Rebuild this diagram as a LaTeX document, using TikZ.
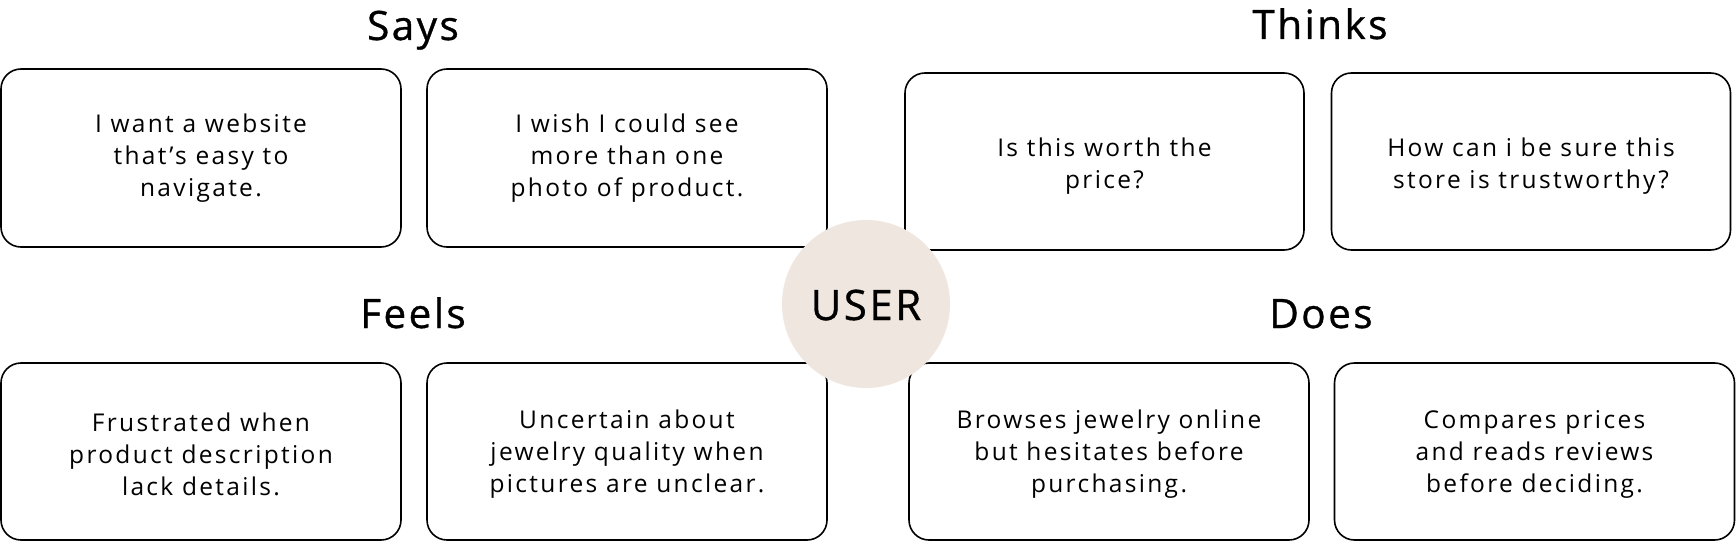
\documentclass[tikz,border=0pt]{standalone}
\usepackage{fontspec}
\setmainfont{Open Sans}
\newfontfamily\bodyfont[LetterSpace=9.5]{Open Sans}
\newfontfamily\titlefont[LetterSpace=6,FakeBold=0.8]{Open Sans}
\definecolor{userfill}{HTML}{EFE6E0}
\begin{document}
\begin{tikzpicture}[x=1pt,y=1pt,
  card/.style={draw=black, line width=1.6pt, rounded corners=20pt, fill=white,
    minimum width=400pt, minimum height=178pt},
  cardtext/.style={align=center, inner sep=0pt, font=\bodyfont\fontsize{24.5}{32}\selectfont},
  ttl/.style={font=\titlefont\fontsize{40.5}{42}\selectfont, inner sep=0pt, anchor=base},
  usercirc/.style={circle, fill=userfill, minimum size=168pt, inner sep=0pt}]
\fill[white] (0,0) rectangle (1736,542);
\useasboundingbox (0,0) rectangle (1736,542);
\node[ttl] (says) at (413,502) {Says};
\node[ttl] (thinks) at (1320,503) {Thinks};
\node[ttl] (feels) at (413,214) {Feels};
\node[ttl] (does) at (1321,214) {Does};
\node[card] (s1) at (201,384) {};
\node[card] (s2) at (627,384) {};
\node[card, minimum width=399pt, minimum height=177pt] (t1) at (1104.5,380.5) {};
\node[card, minimum width=399pt, minimum height=177pt] (t2) at (1531,380.5) {};
\node[card, minimum height=177pt] (f1) at (201,90.5) {};
\node[card, minimum height=177pt] (f2) at (627,90.5) {};
\node[card, minimum height=177pt] (d1) at (1109,90.5) {};
\node[card, minimum height=177pt] (d2) at (1534.5,90.5) {};
\node[cardtext] (s1t) at ([yshift=0pt]s1.center) {I want a website\\that’s easy to\\navigate.};
\node[cardtext] (s2t) at ([yshift=0pt]s2.center) {I wish I could see\\more than one\\photo of product.};
\node[cardtext] (t1t) at ([yshift=-5pt]t1.center) {Is this worth the\\price?};
\node[cardtext] (t2t) at ([yshift=-5pt]t2.center) {How can i be sure this\\store is trustworthy?};
\node[cardtext] (f1t) at ([yshift=-3pt]f1.center) {Frustrated when\\product description\\lack details.};
\node[cardtext] (f2t) at ([yshift=-3pt]f2.center) {Uncertain about\\jewelry quality when\\pictures are unclear.};
\node[cardtext] (d1t) at ([yshift=-3pt]d1.center) {Browses jewelry online\\but hesitates before\\purchasing.};
\node[cardtext] (d2t) at ([yshift=-3pt]d2.center) {Compares prices\\and reads reviews\\before deciding.};
\node[usercirc] (user) at (866,238) {};
\node[ttl, font=\titlefont\fontsize{42}{44}\selectfont] (usertext) at (866,222) {USER};
\end{tikzpicture}
\end{document}
